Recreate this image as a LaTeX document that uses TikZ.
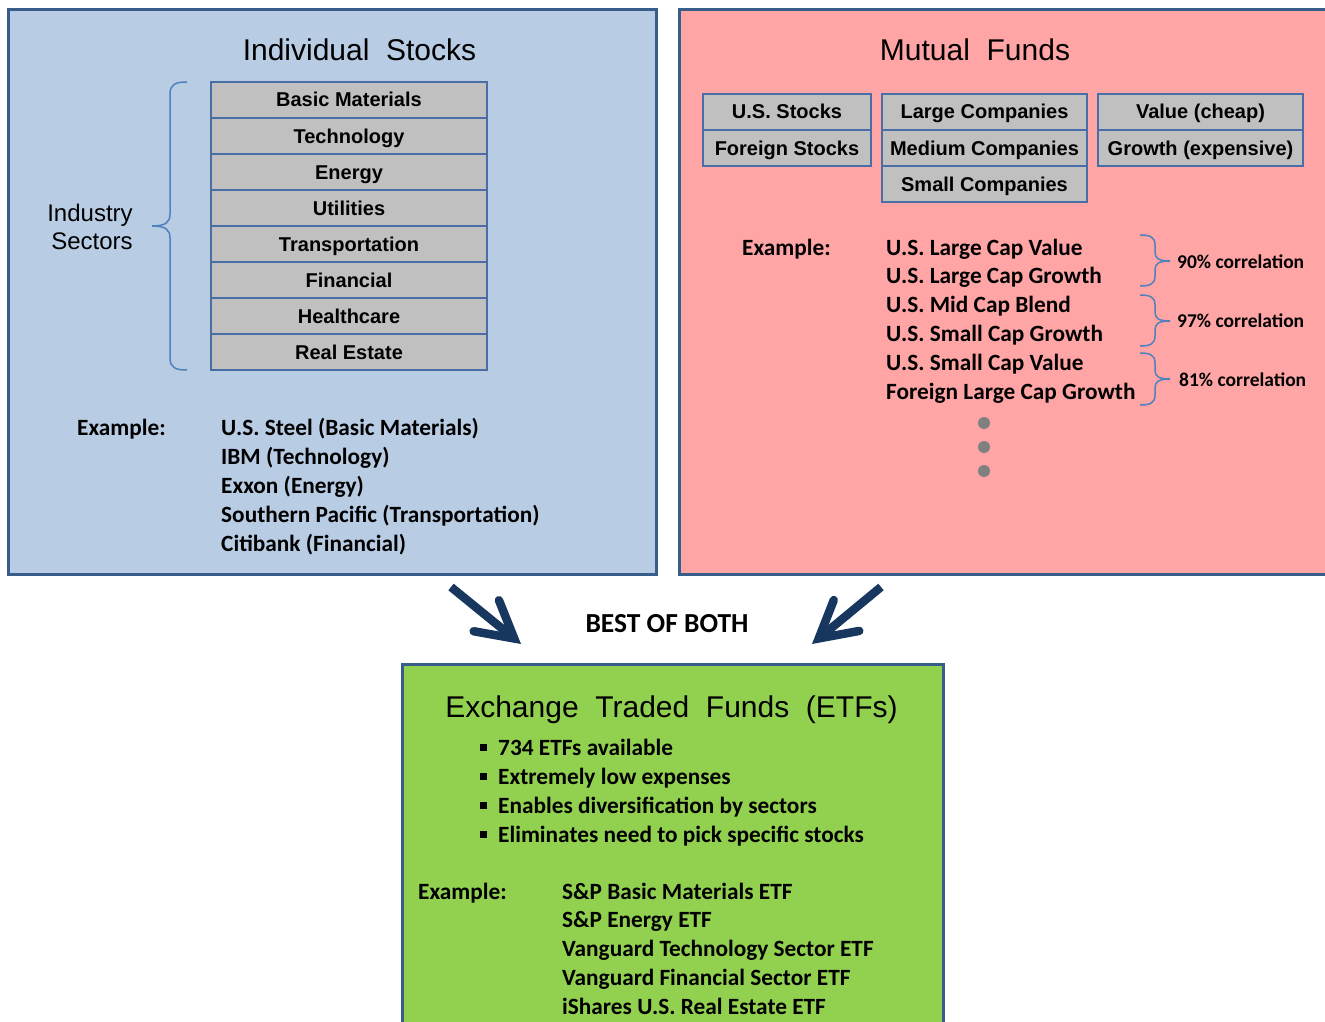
\documentclass[tikz,border=0pt]{standalone}
\usepackage{fontspec}
\setmainfont{Liberation Sans}
\newfontfamily\calfont{Carlito}
\usetikzlibrary{arrows.meta}
\definecolor{panelblue}{RGB}{184,204,228}
\definecolor{panelpink}{RGB}{255,165,165}
\definecolor{panelgreen}{RGB}{146,208,80}
\definecolor{borderblue}{RGB}{56,93,138}
\definecolor{cellborder}{RGB}{72,110,165}
\definecolor{cellgray}{RGB}{192,192,192}
\definecolor{bracecol}{RGB}{79,129,189}
\definecolor{arrowcol}{RGB}{24,55,95}
\definecolor{dotgray}{RGB}{128,128,128}
\begin{document}
\begin{tikzpicture}[x=1pt,y=-1pt,
  panel/.style={draw=borderblue, line width=3pt, inner sep=0pt},
  cell/.style={draw=cellborder, line width=1.5pt, fill=cellgray, inner sep=0pt,
    font=\fontsize{20}{24}\selectfont\bfseries, text height=14pt, text depth=0pt, minimum height=36pt},
  title/.style={anchor=base, inner sep=0pt, font=\fontsize{30}{36}\selectfont},
  side/.style={anchor=base, inner sep=0pt, font=\fontsize{24}{28}\selectfont},
  body/.style={anchor=base west, inner sep=0pt, font=\calfont\bfseries\fontsize{23.3}{28}\selectfont},
  corr/.style={anchor=base west, inner sep=0pt, font=\calfont\bfseries\fontsize{19.5}{24}\selectfont},
  bracket/.style={draw=bracecol, line width=1.5pt},
  bigarrow/.style={draw=arrowcol, line width=8.5pt,
    -{Straight Barb[length=36pt,width=40pt,line cap=round,line join=miter]}},
  dot/.style={circle, fill=dotgray, minimum size=12pt, inner sep=0pt},
]
\useasboundingbox (0,0) rectangle (1325,1022);
\clip (0,0) rectangle (1325,1022);

% panels
\node[panel, fill=panelblue, minimum width=648pt, minimum height=564pt] (stocks) at (332,292) {};
\node[panel, fill=panelpink, minimum width=656pt, minimum height=564pt] (mutual) at (1007,292) {};
\node[panel, fill=panelgreen, minimum width=541pt, minimum height=376pt] (etf) at (672.5,852) {};

% ---------- Individual stocks ----------
\node[title] (tstocks) at (359.5,61) {Individual~~Stocks};
\foreach \lab [count=\i from 0] in {Basic Materials,Technology,Energy,Utilities,Transportation,Financial,Healthcare,Real Estate}
  \node[cell, minimum width=276pt] (sec\i) at (349,100+36*\i) {\lab};
\draw[bracket] (187,82) .. controls (176,82) and (170,84) .. (170,94) -- (170,214)
  .. controls (170,222) and (166,226) .. (152,226)
  .. controls (166,226) and (170,230) .. (170,238) -- (170,358)
  .. controls (170,368) and (176,370) .. (187,370);
\node[side] (ind1) at (90,221) {Industry};
\node[side] (ind2) at (92,249) {Sectors};
\node[body] (exs) at (77,435) {Example:};
\foreach \lab [count=\i from 0] in {U.S. Steel (Basic Materials),IBM (Technology),Exxon (Energy),Southern Pacific (Transportation),Citibank (Financial)}
  \node[body] (se\i) at (221,435+29*\i) {\lab};

% ---------- Mutual funds ----------
\node[title] (tmutual) at (975,61) {Mutual~~Funds};
\node[cell, minimum width=168pt] (us) at (787,112) {U.S. Stocks};
\node[cell, minimum width=168pt] (fs) at (787,148) {Foreign Stocks};
\node[cell, minimum width=205pt] (lc) at (984.5,112) {Large Companies};
\node[cell, minimum width=205pt] (mc) at (984.5,148) {Medium Companies};
\node[cell, minimum width=205pt] (sc) at (984.5,184) {Small Companies};
\node[cell, minimum width=205pt] (vc) at (1200.5,112) {Value (cheap)};
\node[cell, minimum width=205pt] (ge) at (1200.5,148) {Growth (expensive)};
\node[body] (exm) at (742,255) {Example:};
\foreach \lab [count=\i from 0] in {U.S. Large Cap Value,U.S. Large Cap Growth,U.S. Mid Cap Blend,U.S. Small Cap Growth,U.S. Small Cap Value,Foreign Large Cap Growth}
  \node[body] (mf\i) at (886,255+28.8*\i) {\lab};
\foreach \t/\m/\b in {235/261/286, 295/321/346, 353/379/405}
  \draw[bracket] (1140,\t) .. controls (1150,\t) and (1155,\t+2) .. (1155,\t+10) -- (1155,\m-9)
    .. controls (1155,\m-3) and (1158,\m) .. (1170,\m)
    .. controls (1158,\m) and (1155,\m+3) .. (1155,\m+9) -- (1155,\b-10)
    .. controls (1155,\b-2) and (1150,\b) .. (1140,\b);
\node[corr] (c1) at (1177,268) {90\% correlation};
\node[corr] (c2) at (1177,327) {97\% correlation};
\node[corr] (c3) at (1179,386) {81\% correlation};
\node[dot] (d1) at (984,423) {};
\node[dot] (d2) at (984,447) {};
\node[dot] (d3) at (984,471) {};

% ---------- arrows ----------
\coordinate (lstart) at (451,587);
\coordinate (ltip) at (521,644);
\coordinate (rstart) at (881,587);
\coordinate (rtip) at (812,644);
\draw[bigarrow] (lstart) -- (ltip);
\draw[bigarrow] (rstart) -- (rtip);
\node[anchor=base, inner sep=0pt, font=\calfont\bfseries\fontsize{27.5}{32}\selectfont] (best) at (667,632) {BEST OF BOTH};

% ---------- ETFs ----------
\node[title] (tetf) at (671.5,717) {Exchange~~Traded~~Funds~~(ETFs)};
\foreach \lab [count=\i from 0] in {734 ETFs available,Extremely low expenses,Enables diversification by sectors,Eliminates need to pick specific stocks}
  \node[body] (b\i) at (480,755+29*\i) {\rule[3.9pt]{7pt}{7pt}\hspace{11pt}\lab};
\node[body] (exe) at (418,899) {Example:};
\foreach \lab [count=\i from 0] in {S\&P Basic Materials ETF,S\&P Energy ETF,Vanguard Technology Sector ETF,Vanguard Financial Sector ETF,iShares U.S. Real Estate ETF}
  \node[body] (e\i) at (562,899+28.8*\i) {\lab};
\end{tikzpicture}
\end{document}
